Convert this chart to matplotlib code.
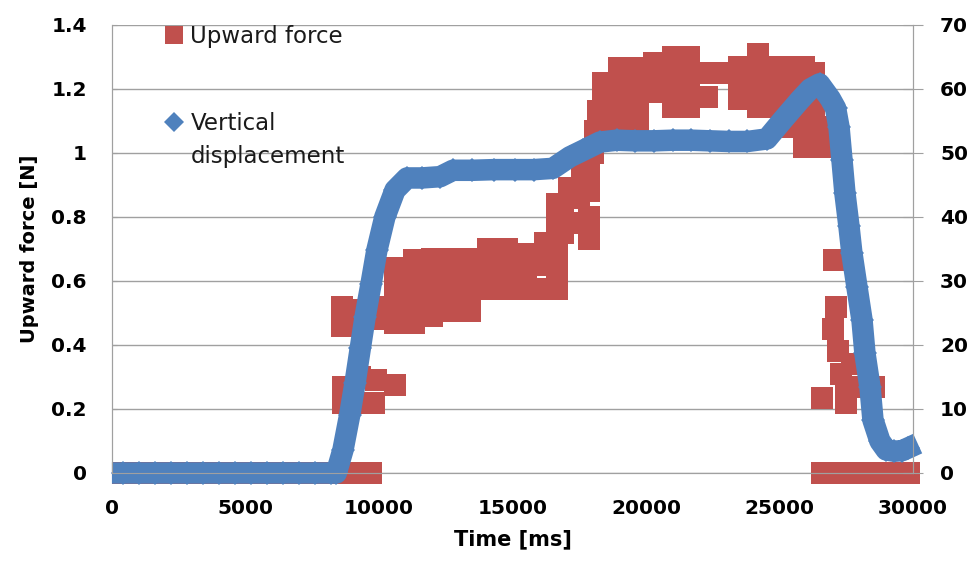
import matplotlib
matplotlib.use('Agg')
import matplotlib.pyplot as plt
from matplotlib.ticker import FuncFormatter

# upward force samples (time ms, force N)
force_time = [400, 1200, 2000, 2800, 3600, 4400, 5200, 6000, 6800, 7600, 8400, 9100, 9700,
              8600, 8600, 9100, 9300, 9800, 10200, 10300,
              8650, 8650, 9300, 9300, 9800, 9900, 10600,
              10600, 10600, 10600, 10600,
              11300, 11300, 11300, 11300,
              12000, 12000, 12000, 12000,
              12700, 12700, 12700, 12700,
              13400, 13400, 13400, 13400,
              14100, 14100, 14100,
              14800, 14800, 14800,
              15500, 15500, 15500,
              16200, 16200, 16200,
              16650, 16650, 16650, 16650, 16650,
              16900, 16900, 17100, 17400, 17500, 17600, 17850, 17850, 17850, 17850,
              18000, 18100, 18200,
              18400, 18400, 18400,
              19000, 19000, 19000, 19000,
              19700, 19700, 19700, 19700,
              20300, 20300, 20300,
              21000, 21000, 21000, 21000,
              21600, 21600, 21600, 21600,
              22300, 22300,
              22900,
              23500, 23500, 23500,
              24200, 24200, 24200, 24200,
              24700, 24700, 24700,
              25300, 25300, 25300, 25300,
              25900, 25900, 25900, 25900, 25900,
              26300, 26300, 26300, 26300,
              26600, 26600,
              26600, 27040, 27000, 27100, 27200, 27300, 27700, 27900, 27500, 27500, 28540,
              26600, 27300, 28000, 28700, 29400, 29850]
force_val = [0, 0, 0, 0, 0, 0, 0, 0, 0, 0, 0, 0, 0,
             0.52, 0.46, 0.51, 0.47, 0.50, 0.48, 0.52,
             0.22, 0.27, 0.30, 0.22, 0.22, 0.29, 0.275,
             0.47, 0.53, 0.59, 0.64,
             0.47, 0.53, 0.60, 0.665,
             0.49, 0.55, 0.61, 0.668,
             0.505, 0.57, 0.63, 0.668,
             0.505, 0.57, 0.63, 0.668,
             0.575, 0.64, 0.70,
             0.575, 0.64, 0.70,
             0.575, 0.63, 0.685,
             0.575, 0.65, 0.72,
             0.575, 0.64, 0.71, 0.78, 0.84,
             0.75, 0.82, 0.89, 0.78, 0.86, 0.93, 0.73, 0.80, 0.88, 0.95,
             1.0, 1.07, 1.13,
             1.08, 1.15, 1.22,
             1.08, 1.15, 1.21, 1.265,
             1.10, 1.17, 1.23, 1.265,
             1.19, 1.24, 1.28,
             1.145, 1.21, 1.27, 1.30,
             1.145, 1.21, 1.27, 1.30,
             1.175, 1.25,
             1.25,
             1.17, 1.23, 1.27,
             1.145, 1.21, 1.27, 1.31,
             1.145, 1.21, 1.27,
             1.08, 1.15, 1.21, 1.27,
             1.02, 1.08, 1.15, 1.21, 1.27,
             1.02, 1.08, 1.15, 1.25,
             1.02, 1.08,
             0.235, 0.667, 0.45, 0.52, 0.38, 0.31, 0.34, 0.27, 0.25, 0.22, 0.27,
             0, 0, 0, 0, 0, 0]

# vertical displacement samples (time ms, displacement)
disp_time = [400, 1000, 1600, 2200, 2800, 3400, 4000, 4600, 5200, 5800, 6400, 7000, 7600, 8200,
             8400, 8650, 8900, 9100, 9300, 9480, 9700, 9920, 10220, 10600, 11050, 11600,
             12290, 12770, 13500, 14300, 15100, 15800, 16510, 17150, 17640, 18270, 18900,
             19600, 20300, 21000, 21700, 22400, 23100, 23800, 24530, 25130, 25770, 26150,
             26500, 26900, 27100, 27230, 27340, 27450, 27600, 27710, 27900, 28090, 28200,
             28390, 28500, 28760, 29000, 29300, 29600, 29810]
disp_val = [0, 0, 0, 0, 0, 0, 0, 0, 0, 0, 0, 0, 0, 0,
            0, 3.6, 9, 14, 19.5, 24.4, 29.5, 34.8, 40, 44.2, 46.1, 46.1,
            46.3, 47.3, 47.3, 47.4, 47.4, 47.4, 47.6, 49.4, 50.4, 51.7, 52,
            51.9, 51.9, 52, 52, 51.9, 51.8, 51.8, 52.2, 55.2, 58.3, 60.0,
            60.8, 58.5, 57, 54, 48.9, 43.75, 38.6, 34.4, 29.1, 23.9, 18.7,
            13.4, 8.3, 5.0, 3.6, 3.4, 3.5, 3.9]

x_ticks = [0, 5000, 10000, 15000, 20000, 25000, 30000]
left_ticks = [0, 0.2, 0.4, 0.6, 0.8, 1.0, 1.2, 1.4]
right_ticks = [0, 10, 20, 30, 40, 50, 60, 70]

red = '#C0504D'
blue = '#4F81BD'
gray = '#A0A0A0'

plt.rcParams['font.family'] = 'DejaVu Sans'

fig = plt.figure(figsize=(9.73, 5.65), dpi=100)
ax = fig.add_axes([112/973, 1-473/565, (913-112)/973, (473-25)/565])
ax2 = ax.twinx()

ax.plot(force_time, force_val, linestyle='none', marker='s', ms=15.8, color=red,
        mew=0, clip_on=False, label='Upward force')
ax2.plot(disp_time, disp_val, color=blue, lw=15.5, solid_joinstyle='round', clip_on=False)
ax2.plot(disp_time, disp_val, linestyle='none', marker='D', ms=12.5, color=blue,
         mew=0, clip_on=False, label='Vertical')

ax.set_xlim(0, 30000)
ax.set_ylim(0, 1.4)
ax2.set_ylim(0, 70)
ax.set_xticks(x_ticks)
ax.set_yticks(left_ticks)
ax2.set_yticks(right_ticks)
ax.yaxis.set_major_formatter(FuncFormatter(lambda v, p: '%g' % round(v, 2)))

ax.grid(axis='y', color=gray, lw=1)
ax.set_axisbelow(True)
for a in (ax, ax2):
    a.spines['top'].set_visible(False)
    a.spines['bottom'].set_color(gray)
    a.spines['left'].set_color(gray)
    a.spines['right'].set_color(gray)

ax.tick_params(axis='y', direction='in', length=3.6, color=gray, pad=18, labelsize=14.5)
ax.tick_params(axis='x', length=0, pad=19, labelsize=14.5)
ax2.tick_params(axis='y', direction='inout', length=15, color=gray, pad=12, labelsize=14.5)
for lab in ax.get_xticklabels() + ax.get_yticklabels() + ax2.get_yticklabels():
    lab.set_fontweight('bold')

ax.set_xlabel('Time [ms]', fontsize=15, fontweight='bold', labelpad=8)
ax.set_ylabel('Upward force [N]', fontsize=14, fontweight='bold', labelpad=9)

h1, l1 = ax.get_legend_handles_labels()
h2, l2 = ax2.get_legend_handles_labels()
leg = fig.legend(h1 + h2, l1 + l2, loc='upper left', bbox_to_anchor=(163/973, 1-25/565),
                 frameon=False, fontsize=16.5, markerscale=0.8, handlelength=1.0,
                 handletextpad=0.2, labelspacing=2.8, borderpad=0, borderaxespad=0)
for t in leg.get_texts():
    t.set_color('#1a1a1a')

# second line of the displacement label, under "Vertical"
fig.canvas.draw()
bb = leg.get_texts()[1].get_window_extent()
fig.text(bb.x0 / fig.bbox.width, (bb.y0 + bb.y1) / 2 / fig.bbox.height - 33 / 565,
         'displacement', fontsize=16.5, color='#1a1a1a', ha='left', va='center')

fig.savefig('out.png', dpi=100)
